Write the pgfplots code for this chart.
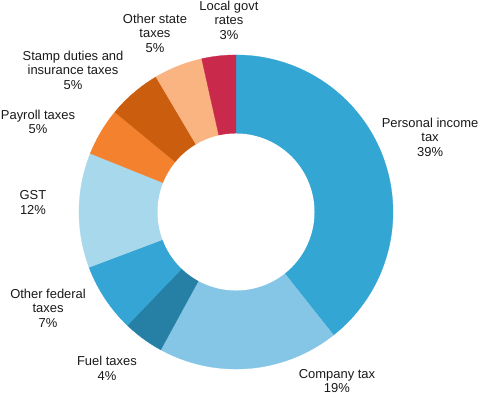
\documentclass[border=0pt]{standalone}
\usepackage{pgfplots}
\usepackage{pgfplotstable}
\pgfplotsset{compat=1.18}
\usepackage{fontspec}
\setmainfont{Liberation Sans}

\definecolor{slice0}{HTML}{33A6D4}
\definecolor{slice1}{HTML}{85C6E6}
\definecolor{slice2}{HTML}{2680A6}
\definecolor{slice3}{HTML}{35A5D5}
\definecolor{slice4}{HTML}{A8D8EC}
\definecolor{slice5}{HTML}{F3812D}
\definecolor{slice6}{HTML}{CB5E0E}
\definecolor{slice7}{HTML}{F9B482}
\definecolor{slice8}{HTML}{C9294A}

\tikzset{lab/.style={font=\fontsize{13}{14.5}\selectfont, text=black!90, align=center, inner sep=0pt}}

% shares of total tax revenue (per cent), clockwise from 12 o'clock
\pgfplotstableread{
idx value
0 39.3
1 18.6
2 4.2
3 7.1
4 11.8
5 4.9
6 5.5
7 5.0
8 3.5
}\taxdata

\def\mytotal{0}
\pgfplotstableforeachcolumnelement{value}\of\taxdata\as\myv{%
  \pgfmathsetmacro\mytmp{\mytotal+\myv}\xdef\mytotal{\mytmp}}
\def\mycum{0}
\pgfplotstableforeachcolumnelement{value}\of\taxdata\as\myv{%
  \pgfmathsetmacro\myA{90-360*(\mycum/\mytotal)}%
  \pgfmathsetmacro\myC{\mycum+\myv}%
  \xdef\mycum{\myC}%
  \pgfmathsetmacro\myB{90-360*(\mycum/\mytotal)}%
  \expandafter\xdef\csname sa\pgfplotstablerow\endcsname{\myB}%
  \expandafter\xdef\csname sb\pgfplotstablerow\endcsname{\myA}%
}

\begin{document}
\begin{tikzpicture}
\begin{axis}[
  scale only axis, width=480bp, height=394bp,
  xmin=-1.503, xmax=1.554, ymin=-1.159, ymax=1.350,
  hide axis, clip=false,
]
\path (rel axis cs:0,0) rectangle (rel axis cs:1,1);
\pgfplotsinvokeforeach{0,...,8}{
  \addplot[fill=slice#1, draw=slice#1, line width=0.3pt,
    domain={\csname sa#1\endcsname}:{\csname sb#1\endcsname}, samples=80]
    ({cos(x)},{sin(x)}) -- (0,0) -- cycle;
}
\addplot[fill=white, draw=none, domain=0:360, samples=160]
  ({0.5*cos(x)},{0.5*sin(x)}) -- cycle;

\node[lab] at (1.236,0.478) {Personal income\\tax\\39\%};
\node[lab] at (0.643,-1.076) {Company tax\\19\%};
\node[lab] at (-0.822,-0.997) {Fuel taxes\\4\%};
\node[lab] at (-1.197,-0.611) {Other federal\\taxes\\7\%};
\node[lab] at (-1.293,0.061) {GST\\12\%};
\node[lab] at (-1.261,0.573) {Payroll taxes\\5\%};
\node[lab] at (-1.038,0.904) {Stamp duties and\\insurance taxes\\5\%};
\node[lab] at (-0.516,1.140) {Other state\\taxes\\5\%};
\node[lab] at (-0.045,1.223) {Local govt\\rates\\3\%};
\end{axis}
\end{tikzpicture}
\end{document}
